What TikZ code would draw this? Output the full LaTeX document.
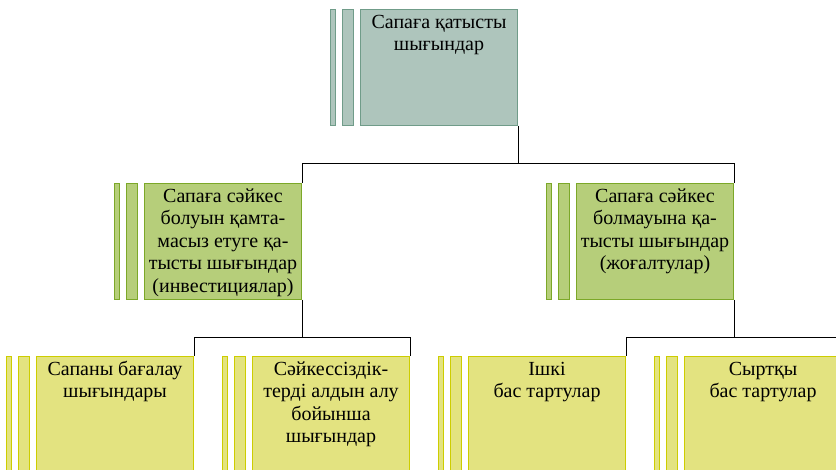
\documentclass[tikz,border=0pt]{standalone}
\usepackage{fontspec}
\setmainfont{Liberation Serif}

\definecolor{rootfill}{RGB}{174,197,188}
\definecolor{rootline}{RGB}{112,156,137}
\definecolor{midfill}{RGB}{182,206,122}
\definecolor{midline}{RGB}{124,168,40}
\definecolor{leaffill}{RGB}{227,227,128}
\definecolor{leafline}{RGB}{205,205,0}

% text of a card: set from the top, centred
\newcommand{\cardtext}[1]{%
  \parbox[t][116pt][t]{157pt}{\centering\fontsize{20pt}{22.5pt}\selectfont
    \rule{0pt}{19pt}#1}}

% a card: main box plus two thin bars on its left
\newcommand{\orgcard}[4]{%
  \node[card, #3] (#1) at (#2) {\cardtext{#4}};
  \node[cardbar, #3, minimum width=11pt] (#1-b2) at ([xshift=-6pt]#1.north west) {};
  \node[cardbar, #3, minimum width=5pt] (#1-b1) at ([xshift=-6pt]#1-b2.north west) {};
}

\tikzset{
  card/.style={line width=1pt, inner sep=0pt, anchor=north west,
    minimum width=157pt, minimum height=116pt},
  cardbar/.style={line width=1pt, inner sep=0pt, anchor=north east,
    minimum height=116pt},
  rootcard/.style={fill=rootfill, draw=rootline},
  midcard/.style={fill=midfill, draw=midline},
  leafcard/.style={fill=leaffill, draw=leafline},
  link/.style={draw=black, line width=1pt},
}

\begin{document}
\begin{tikzpicture}[x=1pt, y=-1pt]
\useasboundingbox (0,0) rectangle (836,470);
\clip (0,0) rectangle (836,470);

\orgcard{root}{360,9}{rootcard}{Сапаға қатысты\\шығындар}

\orgcard{inv}{144,183}{midcard}{Сапаға сәйкес\\болуын қамта-\\масыз етуге қа-\\тысты шығындар\\(инвестициялар)}
\orgcard{loss}{576,183}{midcard}{Сапаға сәйкес\\болмауына қа-\\тысты шығындар\\(жоғалтулар)}

\orgcard{eval}{36,356}{leafcard}{Сапаны бағалау\\шығындары}
\orgcard{prev}{252,356}{leafcard}{Сәйкессіздік-\\терді алдын алу\\бойынша\\шығындар}
\orgcard{intr}{468,356}{leafcard}{Ішкі\\бас тартулар}
\orgcard{extr}{684,356}{leafcard}{Сыртқы\\бас тартулар}

\draw[link] (root.south east) -- ++(0,38) -| (inv.north east);
\draw[link] (root.south east) -- ++(0,38) -| (loss.north east);
\draw[link] (inv.south east) -- ++(0,38) -| (eval.north east);
\draw[link] (inv.south east) -- ++(0,38) -| (prev.north east);
\draw[link] (loss.south east) -- ++(0,38) -| (intr.north east);
\draw[link] (loss.south east) -- ++(0,38) -| (extr.north east);
\end{tikzpicture}
\end{document}
